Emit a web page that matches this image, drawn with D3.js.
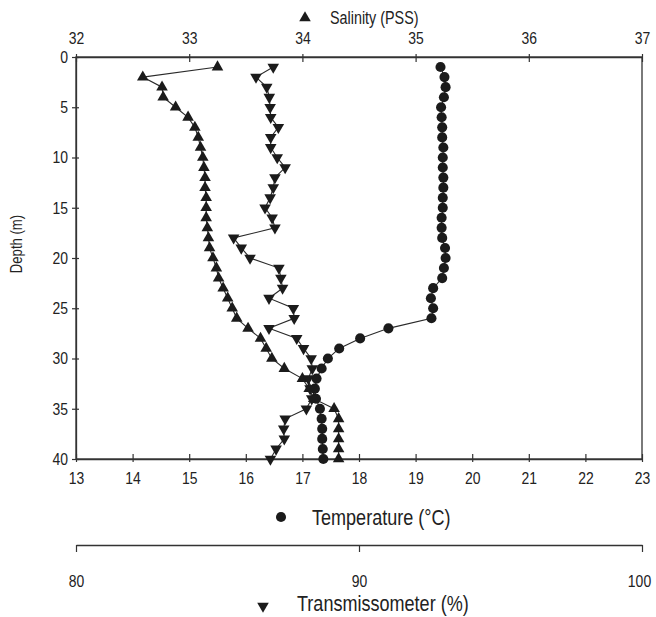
<!DOCTYPE html>
<html>
<head>
<meta charset="utf-8">
<script src="https://cdn.jsdelivr.net/npm/d3@7"></script>
<style>
  body { margin: 0; background: #fff; }
  text { font-family: "Liberation Sans", Arial, sans-serif; fill: #222; }
</style>
</head>
<body>
<div id="chart"></div>
<script>
// depth profile, one reading per metre
const depth = d3.range(1, 41);

const temperature = [19.44, 19.51, 19.53, 19.50, 19.45, 19.46, 19.47, 19.47, 19.49, 19.48,
  19.48, 19.49, 19.49, 19.48, 19.48, 19.46, 19.46, 19.47, 19.52, 19.53,
  19.50, 19.47, 19.31, 19.27, 19.31, 19.28, 18.52, 18.02, 17.65, 17.45,
  17.34, 17.25, 17.22, 17.24, 17.31, 17.34, 17.35, 17.35, 17.36, 17.37];

const salinity = [33.25, 32.59, 32.76, 32.77, 32.88, 32.99, 33.05, 33.08, 33.10, 33.12,
  33.13, 33.14, 33.14, 33.15, 33.15, 33.15, 33.16, 33.17, 33.18, 33.21,
  33.24, 33.26, 33.30, 33.34, 33.38, 33.42, 33.52, 33.63, 33.68, 33.73,
  33.84, 34.00, 34.06, 34.10, 34.28, 34.32, 34.32, 34.32, 34.32, 34.32];

const transmission = [86.97, 86.36, 86.74, 86.83, 86.86, 86.88, 87.15, 86.88, 86.88, 87.11,
  87.39, 87.03, 86.97, 86.86, 86.68, 86.93, 87.03, 85.57, 85.84, 86.15,
  87.17, 87.24, 87.30, 86.82, 87.68, 87.71, 86.82, 87.80, 88.04, 88.31,
  88.35, 88.21, 88.27, 88.33, 88.14, 87.39, 87.34, 87.36, 87.07, 86.87];

const depthTicks = [0, 5, 10, 15, 20, 25, 30, 35, 40];
const tempTicks = d3.range(13, 24);
const salTicks = d3.range(32, 38);
const transTicks = [80, 90, 100];

// Setup
const width = 656;
const height = 617;
const plotLeft = 76, plotRight = 642, plotTop = 57, plotBottom = 459;

const svg = d3.select("#chart")
  .append("svg")
  .attr("width", width)
  .attr("height", height);

const y = d3.scaleLinear().domain([0, 40]).range([plotTop, plotBottom]);
const xTemp = d3.scaleLinear().domain([13, 23]).range([plotLeft, plotRight]);
const xSal = d3.scaleLinear().domain([32, 37]).range([plotLeft, plotRight]);
const xTrans = d3.scaleLinear().domain([80, 100]).range([plotLeft, plotRight]);

const ink = "#1b1b1b";

// frame
svg.append("rect")
  .attr("x", plotLeft).attr("y", plotTop)
  .attr("width", plotRight - plotLeft).attr("height", plotBottom - plotTop)
  .attr("fill", "none").attr("stroke", "#333").attr("stroke-width", 1.3);

function styleAxis(g, inner, vertical) {
  g.select(".domain").attr("stroke", "#333").attr("stroke-width", 1.3);
  g.selectAll(".tick line").attr("stroke", "#333").attr("stroke-width", 1.2);
  g.selectAll(".tick text").attr("fill", "#222").style("font-size", "17px");
  if (inner) g.selectAll(".tick line").attr(vertical ? "x1" : "y1", inner);
}

svg.append("g")
  .attr("transform", `translate(${plotLeft},0)`)
  .call(d3.axisLeft(y).tickValues(depthTicks).tickSize(4).tickSizeOuter(0).tickPadding(4))
  .call(g => styleAxis(g, 3, true));

svg.append("g")
  .attr("transform", `translate(0,${plotBottom})`)
  .call(d3.axisBottom(xTemp).tickValues(tempTicks).tickSize(3).tickSizeOuter(0).tickPadding(10))
  .call(g => styleAxis(g, -5, false));

svg.append("g")
  .attr("transform", `translate(0,${plotTop})`)
  .call(d3.axisTop(xSal).tickValues(salTicks).tickFormat(d3.format("d"))
    .tickSize(3).tickSizeOuter(0).tickPadding(10))
  .call(g => styleAxis(g, 5, false));

svg.append("g")
  .attr("transform", "translate(0,545)")
  .call(d3.axisBottom(xTrans).tickValues(transTicks).tickSize(7).tickSizeOuter(0).tickPadding(23))
  .call(g => styleAxis(g, 0, false))
  .call(g => g.selectAll(".tick:last-of-type text").attr("dx", -3));

// axis titles
svg.append("text")
  .attr("transform", "translate(22,244) rotate(-90)")
  .attr("text-anchor", "middle")
  .style("font-size", "16px")
  .text("Depth (m)");

const tri = d3.symbol().type(d3.symbolTriangle).size(58);
const dot = d3.symbol().type(d3.symbolCircle).size(80);

svg.append("path").attr("d", tri()).attr("transform", "translate(305,18)").attr("fill", ink);
svg.append("text").attr("x", 330).attr("y", 24).style("font-size", "17.5px").text("Salinity (PSS)");

svg.append("path").attr("d", dot()).attr("transform", "translate(281,517)").attr("fill", ink);
svg.append("text").attr("x", 312).attr("y", 525).style("font-size", "22px").text("Temperature (°C)");

svg.append("path").attr("d", tri()).attr("transform", "translate(263,606) rotate(180)").attr("fill", ink);
svg.append("text").attr("x", 297).attr("y", 611).style("font-size", "22px").text("Transmissometer (%)");

// the original uses a condensed face: squeeze every label horizontally
svg.selectAll("text").each(function () {
  const w = this.getComputedTextLength();
  this.setAttribute("textLength", (w * 0.82).toFixed(1));
  this.setAttribute("lengthAdjust", "spacingAndGlyphs");
});

// series
const plot = svg.append("g");

function series(values, x, symbol, rot) {
  const pts = depth.map((d, i) => [x(values[i]), y(d)]);
  plot.append("path")
    .attr("d", d3.line()(pts))
    .attr("fill", "none")
    .attr("stroke", "#2a2a2a")
    .attr("stroke-width", 1.1);
  plot.selectAll(null)
    .data(pts)
    .join("path")
    .attr("d", symbol())
    .attr("transform", p => `translate(${p[0]},${p[1]}) rotate(${rot})`)
    .attr("fill", ink);
}

series(temperature, xTemp, dot, 0);
series(salinity, xSal, tri, 0);
series(transmission, xTrans, tri, 180);
</script>
</body>
</html>
